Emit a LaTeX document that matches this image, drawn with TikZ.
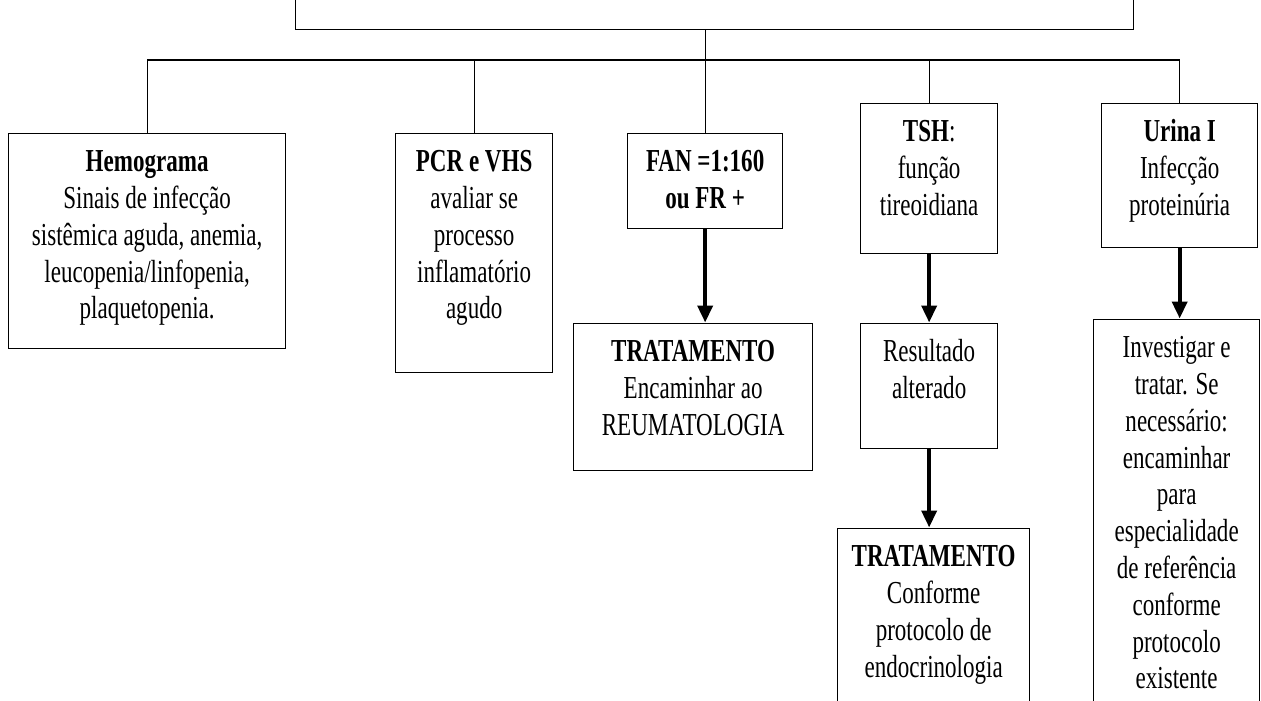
\documentclass[tikz,border=0pt]{standalone}
\usepackage{fontspec}
\setmainfont{Liberation Serif}[FakeStretch=0.72]
\usetikzlibrary{arrows.meta}
% top-aligned, centred text block of fixed width and height
\newcommand\boxtext[3]{\parbox[t][#2][t]{#1}{\centering\rule{0pt}{38pt}#3}}
\tikzset{
  box/.style={draw, line width=1.3pt, inner sep=0pt, anchor=north west,
              font=\fontsize{32}{36.8}\selectfont},
  link/.style={line width=1.3pt},
  arr/.style={line width=3.8pt, -{Triangle[width=15pt,length=17pt]}, shorten >=0.5pt}
}
\begin{document}
\begin{tikzpicture}[x=1pt,y=-1pt]
\useasboundingbox (0,0) rectangle (1261,701);
\clip (0,0) rectangle (1261,701);

% header box (partly above the page)
\node[draw, line width=1.3pt, inner sep=0pt, anchor=south west,
      minimum width=838pt, minimum height=60pt] (top) at (295,30) {};

% first row of exams
\node[box] (hemo) at (8,133) {\boxtext{277pt}{215pt}{\textbf{Hemograma}\\Sinais de infecção\\sistêmica aguda, anemia,\\leucopenia/linfopenia,\\plaquetopenia.}};
\node[box] (pcr) at (395,133) {\boxtext{157pt}{239pt}{\textbf{PCR e VHS}\\avaliar se\\processo\\inflamatório\\agudo}};
\node[box] (fan) at (627,133) {\boxtext{155pt}{95pt}{\textbf{FAN =1:160}\\\textbf{ou FR +}}};
\node[box] (tsh) at (860,103) {\boxtext{137pt}{150pt}{\textbf{TSH}:\\função\\tireoidiana}};
\node[box] (urina) at (1101,103) {\boxtext{156pt}{144pt}{\textbf{Urina I}\\Infecção\\proteinúria}};

% follow-up boxes
\node[box] (trat1) at (573,323) {\boxtext{239pt}{147pt}{\textbf{TRATAMENTO}\\Encaminhar ao\\REUMATOLOGIA}};
\node[box] (res) at (860,323) {\boxtext{137pt}{125pt}{Resultado\\alterado}};
\node[box] (trat2) at (837,528) {\boxtext{192pt}{190pt}{\textbf{TRATAMENTO}\\Conforme\\protocolo de\\endocrinologia}};
\node[box] (inv) at (1093,319) {\boxtext{166pt}{400pt}{Investigar e\\tratar. Se\\necessário:\\encaminhar\\para\\especialidade\\de referência\\conforme\\protocolo\\existente}};

% distribution bus
\coordinate (bus) at (706,60);
\draw[link] (top.south -| fan.north) -- (fan.north);
\draw[link] (hemo.north) -- (hemo.north |- bus) -- (urina.north |- bus) -- (urina.north);
\draw[link] (pcr.north) -- (pcr.north |- bus);
\draw[link] (tsh.north) -- (tsh.north |- bus);

% arrows to the follow-up boxes
\draw[arr] (fan.south) -- (fan.south |- trat1.north);
\draw[arr] (tsh.south) -- (res.north);
\draw[arr] (res.south) -- (res.south |- trat2.north);
\draw[arr] (urina.south) -- (urina.south |- inv.north);
\end{tikzpicture}
\end{document}
